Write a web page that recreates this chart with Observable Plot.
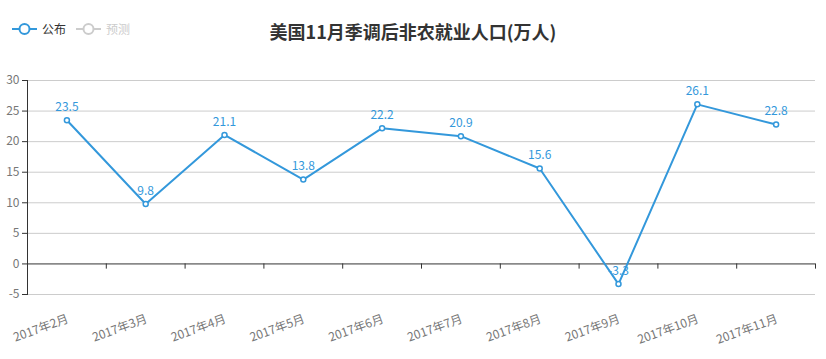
<!DOCTYPE html>
<html><head><meta charset="utf-8">
<script src="https://cdn.jsdelivr.net/npm/d3@7"></script>
<script src="https://cdn.jsdelivr.net/npm/@observablehq/plot@0.6"></script>
<style>
body{margin:0;background:#fff;font-family:"Noto Sans CJK SC","Noto Sans",sans-serif;}
#wrap{position:relative;width:826px;height:359px;}
#title{position:absolute;left:0;width:826px;top:19px;text-align:center;font-size:18px;font-weight:bold;color:#333;line-height:24px;}
#legend{position:absolute;left:12px;top:21px;font-size:12px;line-height:16px;display:flex;align-items:center;}
#legend span{margin-right:10px;margin-left:5px;}
</style></head><body>
<div id="wrap">
<div id="chart"></div>
<div id="title">美国11月季调后非农就业人口(万人)</div>
<div id="legend">
<svg width="25" height="14"><line x1="0" y1="7" x2="25" y2="7" stroke="#3398db" stroke-width="2"/><circle cx="12.5" cy="7" r="5" fill="#fff" stroke="#3398db" stroke-width="2"/></svg><span style="color:#333">公布</span>
<svg width="25" height="14"><line x1="0" y1="7" x2="25" y2="7" stroke="#ccc" stroke-width="2"/><circle cx="12.5" cy="7" r="5" fill="#fff" stroke="#ccc" stroke-width="2"/></svg><span style="color:#ccc">预测</span>
</div>
</div>
<script>
const months = ["2017年2月","2017年3月","2017年4月","2017年5月","2017年6月","2017年7月","2017年8月","2017年9月","2017年10月","2017年11月"];
const published = [23.5, 9.8, 21.1, 13.8, 22.2, 20.9, 15.6, -3.3, 26.1, 22.8];
const yTicks = [-5, 0, 5, 10, 15, 20, 25, 30];

const data = months.map((m, i) => ({month: m, value: published[i]}));
const W = 826, H = 359, ML = 27, MR = 11, MT = 80, MB = 65;
const bw = (W - ML - MR) / months.length;
const color = "#3398db";

const chart = Plot.plot({
  width: W, height: H,
  marginLeft: ML, marginRight: MR, marginTop: MT, marginBottom: MB,
  style: {fontFamily: '"Noto Sans CJK SC","Noto Sans",sans-serif', fontSize: "12px", background: "#fff"},
  x: {type: "band", domain: months, padding: 0, round: false, axis: null},
  y: {domain: [-5, 30], axis: null},
  marks: [
    Plot.ruleY(yTicks.filter(d => d !== 0), {stroke: "#ccc", strokeWidth: 1}),
    Plot.ruleY([0], {stroke: "#333", strokeWidth: 1}),
    Plot.frame({anchor: "left", stroke: "#333"}),
    Plot.ruleY(yTicks, {stroke: "#333", insetLeft: -5, insetRight: W - ML - MR}),
    Plot.text(yTicks, {y: d => d, frameAnchor: "left", textAnchor: "end", dx: -8, fill: "#777", fontSize: 12}),
    Plot.ruleX(months, {x: d => d, y1: 0, y2: -0.85, dx: -bw / 2, stroke: "#333"}),
    Plot.ruleX(months.slice(-1), {x: d => d, y1: 0, y2: -0.85, dx: bw / 2, stroke: "#333"}),
    Plot.text(months, {x: d => d, frameAnchor: "bottom", rotate: -20, textAnchor: "end", lineAnchor: "middle", dy: 24, dx: 1, fill: "#777", fontSize: 12}),
    Plot.line(data, {x: "month", y: "value", stroke: color, strokeWidth: 2}),
    Plot.dot(data, {x: "month", y: "value", r: 2.5, stroke: color, fill: "#fff", strokeWidth: 1.5}),
    Plot.text(data, {x: "month", y: "value", text: d => String(d.value), dy: -13, fill: color, fontSize: 12})
  ]
});
document.getElementById("chart").appendChild(chart);
</script>
</body></html>
